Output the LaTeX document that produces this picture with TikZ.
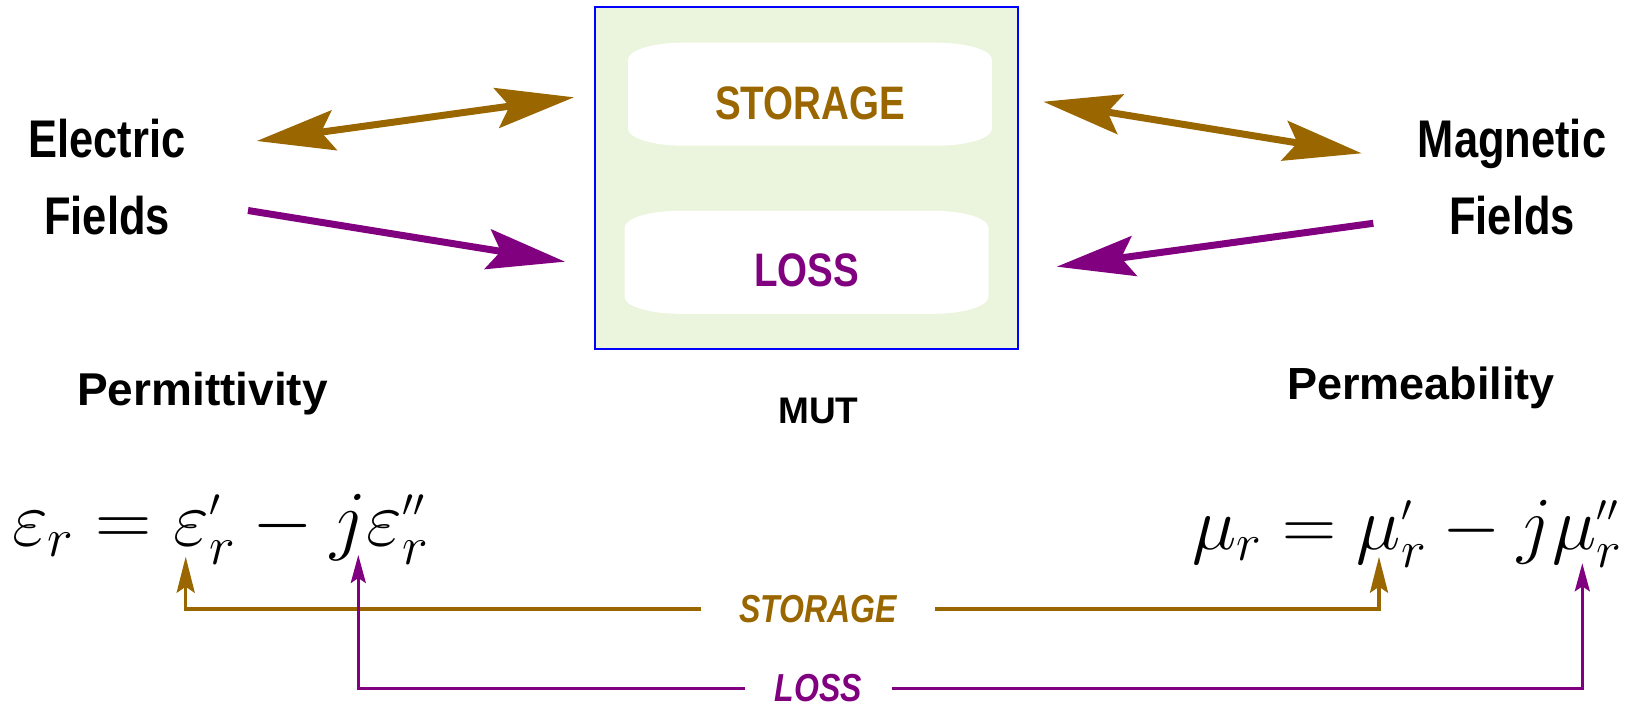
\RequirePackage{fix-cm}
\documentclass[tikz,border=0pt]{standalone}
\usepackage{fontspec}
\setmainfont{Liberation Sans}
\newfontfamily\condfont[FakeStretch=0.82]{Liberation Sans}
\usetikzlibrary{arrows.meta,calc}
\definecolor{storbrown}{HTML}{996600}
\definecolor{losspurple}{HTML}{800080}
\definecolor{mutgreen}{HTML}{EBF4DC}
\definecolor{mutblue}{HTML}{0000FF}
\def\ppb{path picture bounding box}
\tikzset{
  fieldlbl/.style = {font=\condfont\bfseries\fontsize{53}{77}\selectfont, align=center, inner sep=0pt},
  quantlbl/.style = {font=\bfseries\fontsize{45}{50}\selectfont, inner sep=0pt, anchor=base},
  mutbox/.style   = {draw=mutblue, line width=1.5pt, fill=mutgreen, minimum width=423pt, minimum height=342pt},
  pad/.style      = {inner sep=0pt, minimum width=364pt, minimum height=103pt, text depth=0pt,
                     font=\condfont\bfseries\fontsize{47}{50}\selectfont,
                     path picture={\fill[white] ($(\ppb.north west)+(0pt,-17pt)$) .. controls ($(\ppb.north west)+(0pt,-7.6pt)$) and ($(\ppb.north west)+(24.6pt,0pt)$) .. ($(\ppb.north west)+(55pt,0pt)$)
                       -- ($(\ppb.north east)+(-55pt,0pt)$) .. controls ($(\ppb.north east)+(-24.6pt,0pt)$) and ($(\ppb.north east)+(0pt,-7.6pt)$) .. ($(\ppb.north east)+(0pt,-17pt)$)
                       -- ($(\ppb.south east)+(0pt,17pt)$) .. controls ($(\ppb.south east)+(0pt,7.6pt)$) and ($(\ppb.south east)+(-24.6pt,0pt)$) .. ($(\ppb.south east)+(-55pt,0pt)$)
                       -- ($(\ppb.south west)+(55pt,0pt)$) .. controls ($(\ppb.south west)+(24.6pt,0pt)$) and ($(\ppb.south west)+(0pt,7.6pt)$) .. ($(\ppb.south west)+(0pt,17pt)$) -- cycle;}},
  keylbl/.style   = {font=\condfont\bfseries\itshape\fontsize{39}{42}\selectfont, inner ysep=0pt},
  eqn/.style      = {inner sep=0pt, font=\fontsize{78}{80}\selectfont},
  bigarr/.style   = {line width=7pt, >={Stealth[length=78pt, width=40pt, inset=13pt]}},
  storline/.style = {draw=storbrown, line width=3.5pt, -{Stealth[length=36pt, width=18pt, inset=6pt]}},
  lossline/.style = {draw=losspurple, line width=3pt, -{Stealth[length=28pt, width=15pt, inset=5pt]}},
}
\begin{document}
\begin{tikzpicture}[x=1pt, y=-1pt]
  \useasboundingbox (0,0) rectangle (1639,707);
  % material under test
  \node[mutbox] (mut) at (806.5,178) {};
  \node[pad, text=storbrown, text height=50pt] (storPad) at (810,94.2) {STORAGE};
  \node[pad, text=losspurple, text height=49pt] (lossPad) at (806.5,262.3) {LOSS};
  \node[font=\bfseries\fontsize{37}{40}\selectfont, inner sep=0pt, anchor=base] (mutLbl) at (818.5,423) {MUT};
  % fields
  \node[fieldlbl] (elec) at (107,177.5) {Electric\\Fields};
  \node[fieldlbl] (magn) at (1512,177.5) {Magnetic\\Fields};
  \node[quantlbl, font=\bfseries\fontsize{46}{50}\selectfont] (perm) at (202.5,405) {Permittivity};
  \node[quantlbl] (perb) at (1421,399) {Permeability};
  \coordinate (elecStor) at (256.7,141);
  \coordinate (mutStorL) at (574,97.3);
  \coordinate (elecLoss) at (248,210.5);
  \coordinate (mutLossL) at (565,261.7);
  \coordinate (mutStorR) at (1043.3,101.7);
  \coordinate (magnStor) at (1361.7,153.3);
  \coordinate (magnLoss) at (1373.3,223.3);
  \coordinate (mutLossR) at (1056.7,266.7);
  \draw[bigarr, storbrown, <->] (elecStor) -- (mutStorL);
  \draw[bigarr, losspurple, ->] (elecLoss) -- (mutLossL);
  \draw[bigarr, storbrown, <->] (mutStorR) -- (magnStor);
  \draw[bigarr, losspurple, ->] (magnLoss) -- (mutLossR);
  % equations
  \node[eqn, anchor=base west] (epsEq) at (12,545)
    {$\varepsilon_r = \varepsilon_r^{\scriptscriptstyle\prime} - j\varepsilon_r^{\scriptscriptstyle\prime\prime}$};
  \node[eqn, font=\fontsize{75}{80}\selectfont, anchor=base east] (muEq) at (1622,549)
    {$\mu_r = \mu_r^{\scriptscriptstyle\prime} - j\mu_r^{\scriptscriptstyle\prime\prime}$};
  \coordinate (epsS) at (185.7,556.7);
  \coordinate (epsL) at (358.3,555);
  \coordinate (muS) at (1379,556.7);
  \coordinate (muL) at (1582.3,563.3);
  \node[keylbl, text=storbrown, inner xsep=38pt] (storKey) at (818,609) {STORAGE};
  \node[keylbl, text=losspurple, inner xsep=30pt] (lossKey) at (818.5,688) {LOSS};
  \draw[storline] (storKey.west) -| (epsS);
  \draw[storline] (storKey.east) -| (muS);
  \draw[lossline] (lossKey.west) -| (epsL);
  \draw[lossline] (lossKey.east) -| (muL);
\end{tikzpicture}
\end{document}
